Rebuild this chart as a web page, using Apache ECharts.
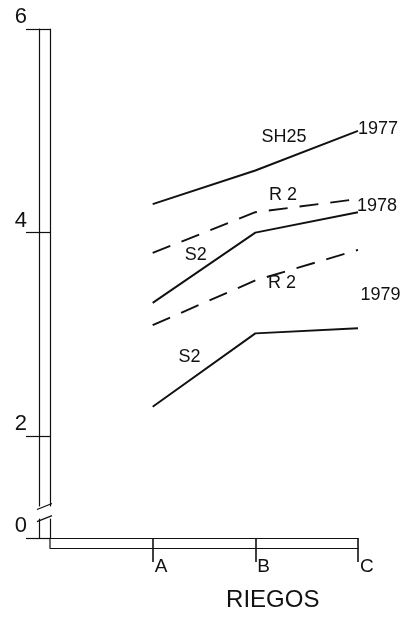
<!DOCTYPE html>
<html><head><meta charset="utf-8">
<script src="https://cdn.jsdelivr.net/npm/echarts@6/dist/echarts.min.js"></script>
<style>html,body{margin:0;padding:0;background:#fff}#c{width:411px;height:617px}</style>
</head><body><div id="c"></div>
<script>
// ---- data ----
const categories = ['A', 'B', 'C'];
const sh25_1977 = [4.28, 4.61, 5.00];
const r2_1978 = [3.80, 4.20, 4.33];
const s2_1978 = [3.31, 4.00, 4.20];
const r2_1979 = [3.09, 3.53, 3.83];
const s2_1979 = [2.29, 3.01, 3.06];
const yTickValues = [1, 2, 4, 6];
const yTickLabels = ['0', '2', '4', '6'];
const xTitle = 'RIEGOS';
// annotation texts anchored in data units
const annoText = ['SH25', '1977', 'R 2', '1978', 'S2', 'R 2', '1979', 'S2'];
const annoX = [1.28, 2.195, 1.27, 2.185, 0.42, 1.26, 2.22, 0.36];
const annoY = [4.94, 5.02, 4.37, 4.26, 3.78, 3.50, 3.39, 2.78];

const INK = '#111';
const FONT = 'Liberation Sans, Arial, sans-serif';
const toPts = arr => arr.map((v, i) => [i, v]);

const chart = echarts.init(document.getElementById('c'), null, {renderer: 'canvas'});

function mkLine(name, arr, dashed) {
  return {
    name, type: 'line', data: toPts(arr), xAxisIndex: 0, yAxisIndex: 0,
    symbol: 'none', silent: true, animation: false,
    lineStyle: {color: INK, width: 1.9, type: dashed ? [19, 12] : 'solid'}
  };
}

chart.setOption({
  animation: false,
  backgroundColor: '#fff',
  grid: {left: 50, right: 53, top: 29, bottom: 79, containLabel: false},
  xAxis: [{
    type: 'value', min: -1, max: 2, position: 'bottom',
    axisLine: {show: true, lineStyle: {color: INK, width: 1.2}},
    axisTick: {show: true, customValues: [0, 1, 2], length: 24, lineStyle: {color: INK, width: 1.6}},
    axisLabel: {customValues: [0, 1, 2], formatter: v => categories[v] || '', align: 'left',
      verticalAlign: 'top', margin: 19, padding: [0, 0, 0, 2], color: INK, fontSize: 19, fontFamily: FONT},
    splitLine: {show: false}
  }, {
    type: 'value', min: -1, max: 2, position: 'bottom', offset: 10,
    axisLine: {show: true, onZero: false, lineStyle: {color: INK, width: 1.2}},
    axisTick: {show: false}, axisLabel: {show: false}, splitLine: {show: false}
  }],
  yAxis: [{
    type: 'value', min: 1, max: 6, position: 'left',
    axisLine: {show: true, onZero: false, lineStyle: {color: INK, width: 1.2}},
    axisTick: {show: true, customValues: yTickValues, length: 11, lineStyle: {color: INK, width: 1.2}},
    axisLabel: {show: false}, splitLine: {show: false}
  }, {
    type: 'value', min: 1, max: 6, position: 'left', offset: 11,
    axisLine: {show: true, onZero: false, lineStyle: {color: INK, width: 1.2}},
    axisTick: {show: true, customValues: yTickValues, length: 13, lineStyle: {color: INK, width: 1.2}},
    axisLabel: {customValues: yTickValues, formatter: v => yTickLabels[yTickValues.indexOf(v)],
      verticalAlign: 'bottom', margin: 12, padding: [0, 0, 1, 0], color: INK, fontSize: 22, fontFamily: FONT},
    splitLine: {show: false}
  }],
  series: [
    mkLine('SH25 1977', sh25_1977, false),
    mkLine('R2 1978', r2_1978, true),
    mkLine('S2 1978', s2_1978, false),
    mkLine('R2 1979', r2_1979, true),
    mkLine('S2 1979', s2_1979, false)
  ]
});

// decorations computed from the axes' scales
const px = (x, y) => chart.convertToPixel({xAxisIndex: 0, yAxisIndex: 0}, [x, y]);
const innerX = px(-1, 1)[0];
const outerX = innerX - 11;
const yBase = px(-1, 1)[1];
const yBrTop = px(-1, 1.31)[1];
const yBrBot = px(-1, 1.19)[1];
const graphics = [
  {type: 'rect', shape: {x: outerX - 2, y: yBrTop, width: innerX - outerX + 4, height: yBrBot - yBrTop},
    style: {fill: '#fff'}, z: 100},
  {type: 'line', shape: {x1: outerX - 2, y1: yBrTop + 3, x2: innerX + 2, y2: yBrTop - 3},
    style: {stroke: INK, lineWidth: 1.2}, z: 101},
  {type: 'line', shape: {x1: outerX - 2, y1: yBrBot + 3, x2: innerX + 2, y2: yBrBot - 3},
    style: {stroke: INK, lineWidth: 1.2}, z: 101},
  {type: 'line', shape: {x1: innerX, y1: yBase, x2: innerX, y2: yBase + 10},
    style: {stroke: INK, lineWidth: 1.2}, z: 101}
];
annoText.forEach((t, i) => {
  const p = px(annoX[i], annoY[i]);
  graphics.push({type: 'text', x: p[0], y: p[1], z: 102,
    style: {text: t, fill: INK, font: '18px ' + FONT, textAlign: 'center', textVerticalAlign: 'middle'}});
});
const tp = px(1.17, 1);
graphics.push({type: 'text', x: tp[0], y: tp[1] + 62, z: 102,
  style: {text: xTitle, fill: INK, font: '24px ' + FONT, textAlign: 'center', textVerticalAlign: 'middle'}});
chart.setOption({graphic: graphics});
</script>
</body></html>
